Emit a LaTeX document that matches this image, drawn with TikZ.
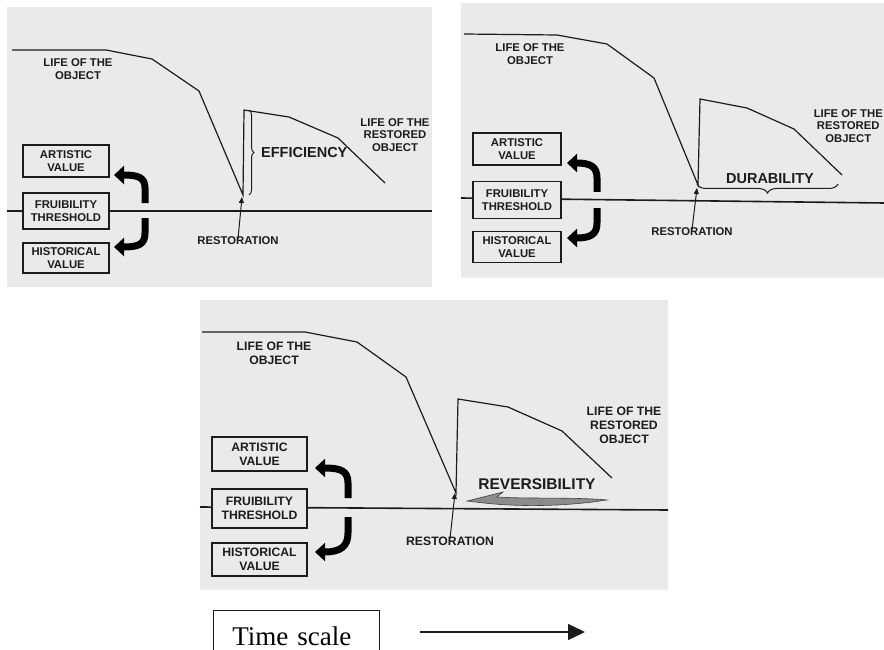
\documentclass[tikz,border=0pt]{standalone}
\usepackage{fontspec}
\setmainfont{Liberation Serif}
\setsansfont{Liberation Sans}
\usepackage{tikz}
\usetikzlibrary{positioning, calc, arrows.meta, decorations.pathreplacing}

\definecolor{panelgray}{RGB}{234,234,234}
\definecolor{ink}{RGB}{28,28,28}

\begin{document}
\begin{tikzpicture}[x=1pt, y=-1pt,
	panel/.style={fill=panelgray},
	life/.style={draw=ink, line width=1.2pt, line join=miter},
	threshold/.style={draw=ink, line width=1.6pt},
	lbl/.style={font=\sffamily\bfseries\fontsize{11.3}{12.8}\selectfont, text=ink, align=center, inner sep=0pt},
	lblbig/.style={font=\sffamily\bfseries\fontsize{12.2}{14}\selectfont, text=ink, align=center, inner sep=0pt},
	valuebox/.style={draw=ink, line width=1.2pt, fill=panelgray, inner sep=0pt},
	word/.style={font=\sffamily\bfseries\fontsize{#1}{#1}\selectfont, text=ink, inner sep=0pt},
	turn/.style={draw=black, line width=7pt, -{Triangle[length=10pt, width=18pt]}},
	restarrow/.style={draw=ink, line width=1pt, -{Triangle[length=6pt, width=5pt]}},
	bracket/.style={draw=ink, line width=1pt, decorate, decoration={brace, amplitude=#1}},
	swoosh/.style={fill=black!45, draw=black!75, line width=0.6pt}
	]
	\clip (0,0) rectangle (884,650);
	
	% the three panels
	\fill[panel] (7,7) rectangle (432,287);
	\fill[panel] (461,3) rectangle (884,278);
	\fill[panel] (200,300) rectangle (668,590);
	
	%%% panel 1 : efficiency
	\draw[threshold] (7,211) -- (432,211);
	\draw[life] (12,50) -- (106,50) -- (152,59) -- (199,91) -- (243,195) -- (244,110) -- (289,117) -- (338,138) -- (385,183);
	\node[lbl] (obj1) at (78,69) {LIFE OF THE\\OBJECT};
	\node[lbl] (rob1) at (395,135) {LIFE OF THE\\RESTORED\\OBJECT};
	\draw[bracket=5pt] (249,110) -- (249,195);
	\node[word=14.5, anchor=west] (eff) at (261,153) {EFFICIENCY};
	\node[lbl] (rest1) at (238,241) {RESTORATION};
	\coordinate (dip1) at (242,197);
	\draw[restarrow] ([yshift=-2pt]rest1.north) -- (dip1);
	\foreach \nm/\cy/\h/\txt in {art1/161/32/{ARTISTIC\\VALUE}, fru1/211/36/{FRUIBILITY\\THRESHOLD}, his1/258/30/{HISTORICAL\\VALUE}}
	\node[valuebox, lbl, minimum width=86pt, minimum height=\h pt] (\nm) at (66,\cy) {\txt};
	\draw[turn] (145,203) -- (145,188) .. controls (145,178) and (139,175) .. (114,175);
	\draw[turn] (145,218) -- (145,233) .. controls (145,244) and (139,247) .. (114,247);
	
	%%% panel 2 : durability
	\draw[threshold] (461,198) -- (884,203);
	\draw[life] (464,34) -- (557,35) -- (607,44) -- (654,78) -- (698,185) -- (700,99) -- (747,108) -- (794,129) -- (842,175);
	\node[lbl] (obj2) at (530,54) {LIFE OF THE\\OBJECT};
	\node[lbl, anchor=east] (rob2) at (883,126) {LIFE OF THE\\RESTORED\\OBJECT};
	\draw[bracket=9pt] (838,184) -- (697,184);
	\node[word=14.5] (dur) at (770,179) {DURABILITY};
	\node[lbl] (rest2) at (692,232) {RESTORATION};
	\coordinate (dip2) at (697,188);
	\draw[restarrow] ([yshift=-2pt]rest2.north) -- (dip2);
	\foreach \nm/\cy/\h/\txt in {art2/149/32/{ARTISTIC\\VALUE}, fru2/200/37/{FRUIBILITY\\THRESHOLD}, his2/247/31/{HISTORICAL\\VALUE}}
	\node[valuebox, lbl, minimum width=88pt, minimum height=\h pt] (\nm) at (517,\cy) {\txt};
	\draw[turn] (597,192) -- (597,178) .. controls (597,167) and (591,163) .. (567,163);
	\draw[turn] (597,208) -- (597,223) .. controls (597,234) and (591,238) .. (567,238);
	
	%%% panel 3 : reversibility
	\draw[threshold] (200,507) -- (668,510);
	\draw[life] (202,332) -- (305,332) -- (357,342) -- (406,377) -- (456,493) -- (458,399) -- (508,407) -- (562,431) -- (612,478);
	\node[lblbig] (obj3) at (274,353) {LIFE OF THE\\OBJECT};
	\node[lblbig] (rob3) at (624,425) {LIFE OF THE\\RESTORED\\OBJECT};
	\node[word=15.5] (rev) at (537,484) {REVERSIBILITY};
	\draw[swoosh] (467,501) -- (503,492) -- (497,497) .. controls (530,499) and (575,497) .. (607,500) .. controls (575,505) and (530,508) .. (484,503) -- cycle;
	\node[lblbig] (rest3) at (450,541) {RESTORATION};
	\coordinate (dip3) at (455,493);
	\draw[restarrow] ([yshift=-2pt]rest3.north) -- (dip3);
	\foreach \nm/\cy/\h/\txt in {art3/454/34/{ARTISTIC\\VALUE}, fru3/508.5/39/{FRUIBILITY\\THRESHOLD}, his3/559.5/33/{HISTORICAL\\VALUE}}
	\node[valuebox, lblbig, minimum width=95pt, minimum height=\h pt] (\nm) at (259.5,\cy) {\txt};
	\draw[turn] (348,498) -- (348,483) .. controls (348,471) and (341,468) .. (315,468);
	\draw[turn] (348,517) -- (348,533) .. controls (348,546) and (341,552) .. (315,552);
	
	%%% time scale
	\node[draw=ink, line width=0.8pt, anchor=north west, minimum height=52pt, text width=128pt, inner xsep=19pt, align=left,
	font=\fontsize{27}{27}\selectfont] (tscale) at (213,610) {Time scale};
	\coordinate (t0) at (420,632);
	\coordinate (t1) at (585,632);
	\draw[ink, line width=1.3pt, -{Triangle[length=17pt, width=16pt]}] (t0) -- (t1);
\end{tikzpicture}
\end{document}
